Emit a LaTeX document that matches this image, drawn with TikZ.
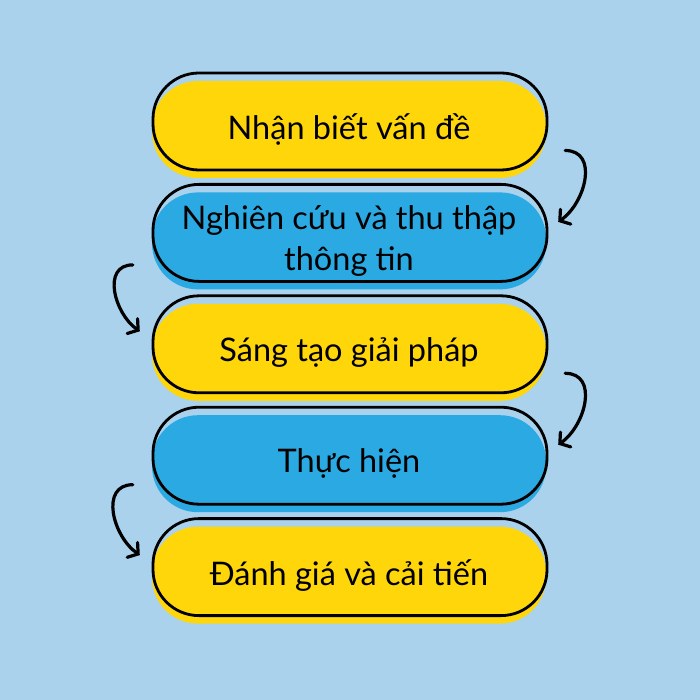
\documentclass[tikz,border=0pt]{standalone}
\usepackage{fontspec}
\setmainfont{Lato}
\usetikzlibrary{positioning, arrows.meta}
\definecolor{bgblue}{HTML}{AAD2EC}
\definecolor{stepyellow}{HTML}{FFD60A}
\definecolor{stepblue}{HTML}{2AA9E3}
\tikzset{
  pill/.style={rounded corners=46pt, minimum width=394pt, minimum height=97pt, align=center,
    font=\fontsize{32.5}{41}\selectfont,
    postaction={draw=black, line width=2.8pt, transform canvas={shift={(1pt,8pt)}}}},
  yellowpill/.style={pill, fill=stepyellow},
  bluepill/.style={pill, fill=stepblue},
  flow/.style={-{Straight Barb[length=7pt, width=18pt, line cap=round]}, line width=3.2pt, line cap=round, looseness=1.2},
  node distance=14pt
}

\begin{document}
\begin{tikzpicture}
    \fill[bgblue] (0pt,0pt) rectangle (700pt,-700pt);
    \useasboundingbox (0pt,0pt) rectangle (700pt,-700pt);
    \node[yellowpill] (recognize) at (349pt,-129.5pt) {Nhận biết vấn đề};
    \node[bluepill, below=of recognize] (research) {Nghiên cứu và thu thập\\thông tin};
    \node[yellowpill, below=of research] (create) {Sáng tạo giải pháp};
    \node[bluepill, below=of create] (implement) {Thực hiện};
    \node[yellowpill, below=of implement] (evaluate) {Đánh giá và cải tiến};
    \draw[flow] ([shift={(19pt,-21pt)}]recognize.east) to[out=0, in=35] ([shift={(12pt,19pt)}]research.east);
    \draw[flow] ([shift={(-19pt,-24pt)}]research.west) to[out=180, in=145] ([shift={(-12pt,21pt)}]create.west);
    \draw[flow] ([shift={(19pt,-21pt)}]create.east) to[out=0, in=35] ([shift={(12pt,19pt)}]implement.east);
    \draw[flow] ([shift={(-19pt,-21pt)}]implement.west) to[out=180, in=145] ([shift={(-12pt,20pt)}]evaluate.west);
\end{tikzpicture}
\end{document}
